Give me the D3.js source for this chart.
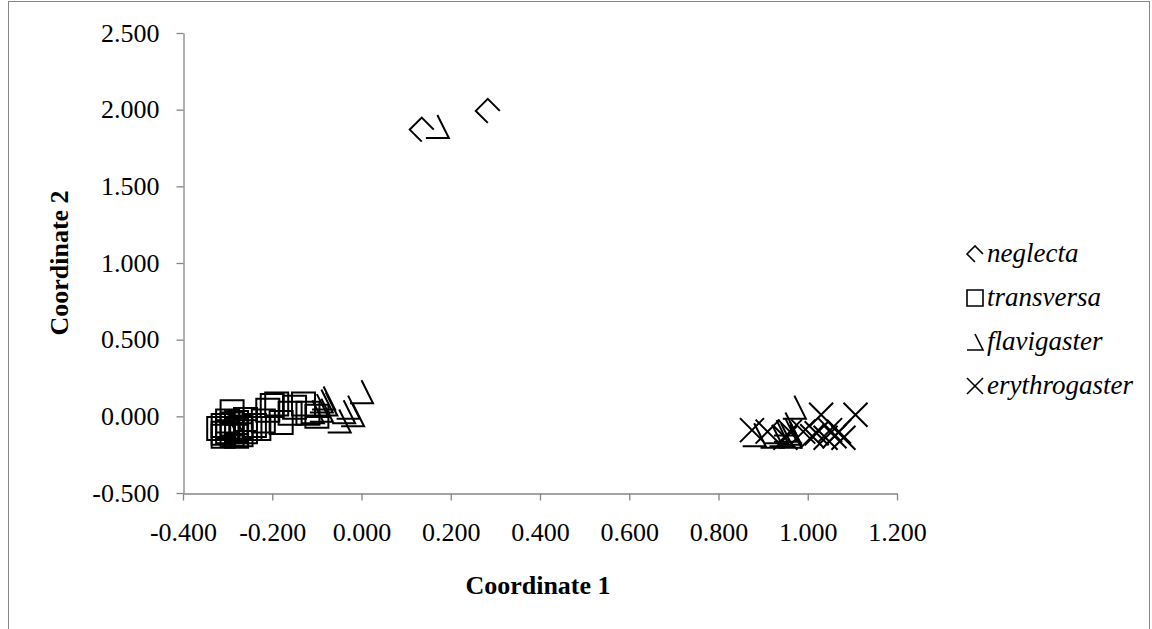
<!DOCTYPE html>
<html>
<head>
<meta charset="utf-8">
<script src="https://cdn.jsdelivr.net/npm/d3@7"></script>
<style>
  html, body { margin: 0; padding: 0; background: #fff; }
  svg { display: block; }
  svg text { font-family: "Times New Roman", "Liberation Serif", "DejaVu Serif", serif; }
</style>
</head>
<body>
<svg id="chart" width="1152" height="629"></svg>
<script>
// Principal coordinates of four species
const neglectaX = [0.135, 0.283];
const neglectaY = [1.870, 1.992];

const transversaX = [-0.31, -0.30, -0.29, -0.30, -0.28, -0.29, -0.31, -0.27, -0.28, -0.30,
                     -0.32, -0.26, -0.29, -0.27, -0.25, -0.24, -0.31, -0.28, -0.22, -0.20,
                     -0.19, -0.21, -0.18, -0.15, -0.13, -0.12, -0.10, -0.23, -0.26, -0.16];
const transversaY = [-0.06, -0.08, -0.05, -0.10, -0.09, -0.12, -0.11, -0.07, -0.04, -0.03,
                     -0.08, -0.10, 0.03, -0.12, -0.08, -0.06, -0.13, -0.13, -0.03, 0.07,
                     0.08, 0.04, -0.04, 0.06, 0.08, 0.02, 0.00, -0.08, -0.02, 0.02];

const flavigasterX = [0.17, -0.09, -0.085, -0.10, -0.08, -0.09, -0.04, -0.03, -0.02, 0.00,
                      -0.05, -0.11, -0.30, -0.28, 0.88, 0.92, 0.94, 0.95, 0.96, 0.95,
                      0.97, 0.93, 0.96];
const flavigasterY = [1.89, 0.10, 0.12, 0.07, 0.08, 0.04, 0.03, 0.06, 0.01, 0.16,
                      -0.03, 0.03, -0.07, -0.10, -0.12, -0.13, -0.12, -0.09, -0.11, -0.05,
                      0.06, -0.10, -0.13];

const erythrogasterX = [0.875, 0.91, 0.96, 0.99, 1.02, 1.03, 1.04, 1.05, 1.06, 1.07,
                        1.08, 1.107, 1.01, 0.95];
const erythrogasterY = [-0.09, -0.10, -0.10, -0.10, -0.11, 0.01, -0.14, -0.09, -0.13, -0.10,
                        -0.14, 0.01, -0.13, -0.14];

const speciesNames = ["neglecta", "transversa", "flavigaster", "erythrogaster"];
const xTicks = [-0.4, -0.2, 0.0, 0.2, 0.4, 0.6, 0.8, 1.0, 1.2];
const yTicks = [-0.5, 0.0, 0.5, 1.0, 1.5, 2.0, 2.5];

const svg = d3.select("#chart");
const axisColor = "#868686";

// chart frame
svg.append("rect")
  .attr("x", 8.5).attr("y", 1.5)
  .attr("width", 1141).attr("height", 660)
  .attr("fill", "none").attr("stroke", axisColor).attr("stroke-width", 1);

const x = d3.scaleLinear().domain([-0.4, 1.2]).range([183, 897]);
const y = d3.scaleLinear().domain([-0.5, 2.5]).range([493, 33]);

// three decimals, plain hyphen for negatives
const fmt = v => d3.format(".3f")(v).replace("\u2212", "-");

const yAxis = svg.append("g")
  .attr("transform", "translate(183.5,0)")
  .call(d3.axisLeft(y).tickValues(yTicks).tickFormat(fmt).tickSize(7).tickPadding(17).tickSizeOuter(0));
const xAxis = svg.append("g")
  .attr("transform", "translate(0,493.5)")
  .call(d3.axisBottom(x).tickValues(xTicks).tickFormat(fmt).tickSize(7).tickPadding(22).tickSizeOuter(0));

[xAxis, yAxis].forEach(g => {
  g.attr("font-family", null).attr("font-size", null);
  g.select(".domain").attr("stroke", axisColor).attr("stroke-width", 1.3);
  g.selectAll(".tick line").attr("stroke", axisColor).attr("stroke-width", 1.3);
  g.selectAll(".tick text")
    .attr("font-size", 26)
    .attr("fill", "#000");
});

// axis titles
svg.append("text")
  .attr("x", 538).attr("y", 594)
  .attr("text-anchor", "middle")
  .attr("font-weight", "bold").attr("font-size", 26)
  .text("Coordinate 1");
svg.append("text")
  .attr("transform", "translate(68,263) rotate(-90)")
  .attr("text-anchor", "middle")
  .attr("font-weight", "bold").attr("font-size", 26)
  .text("Coordinate 2");

// marker outlines (open strokes)
const markers = {
  neglecta: s => { const h = s / 2; return `M0,${h}L${-h},0L0,${-h}L${h},0`; },
  transversa: s => { const h = s / 2; return `M${-h},${-h}H${h}V${h}H${-h}Z`; },
  flavigaster: s => { const h = s / 2; return `M${-h},${h}H${h}L0,${-h}`; },
  erythrogaster: s => { const h = s / 2; return `M${-h},${-h}L${h},${h}M${h},${-h}L${-h},${h}`; }
};
const plotSize = { neglecta: 24, transversa: 23, flavigaster: 23, erythrogaster: 24 };

const series = [
  { name: "neglecta", xs: neglectaX, ys: neglectaY },
  { name: "transversa", xs: transversaX, ys: transversaY },
  { name: "flavigaster", xs: flavigasterX, ys: flavigasterY },
  { name: "erythrogaster", xs: erythrogasterX, ys: erythrogasterY }
];

const plot = svg.append("g");
series.forEach(s => {
  const pts = s.xs.map((v, i) => [v, s.ys[i]]);
  plot.append("g").selectAll("path")
    .data(pts)
    .join("path")
    .attr("transform", d => `translate(${x(d[0])},${y(d[1])})`)
    .attr("d", markers[s.name](plotSize[s.name]))
    .attr("fill", "none")
    .attr("stroke", "#000")
    .attr("stroke-width", 2)
    .attr("stroke-linejoin", "miter");
});

// legend
const legend = svg.append("g").attr("transform", "translate(975,254)");
speciesNames.forEach((n, i) => {
  const row = legend.append("g").attr("transform", `translate(0,${i * 44})`);
  row.append("path")
    .attr("d", markers[n](16))
    .attr("fill", "none").attr("stroke", "#000").attr("stroke-width", 1.6);
  row.append("text")
    .attr("x", 12).attr("y", 8)
    .attr("font-style", "italic").attr("font-size", 27)
    .text(n);
});
</script>
</body>
</html>
